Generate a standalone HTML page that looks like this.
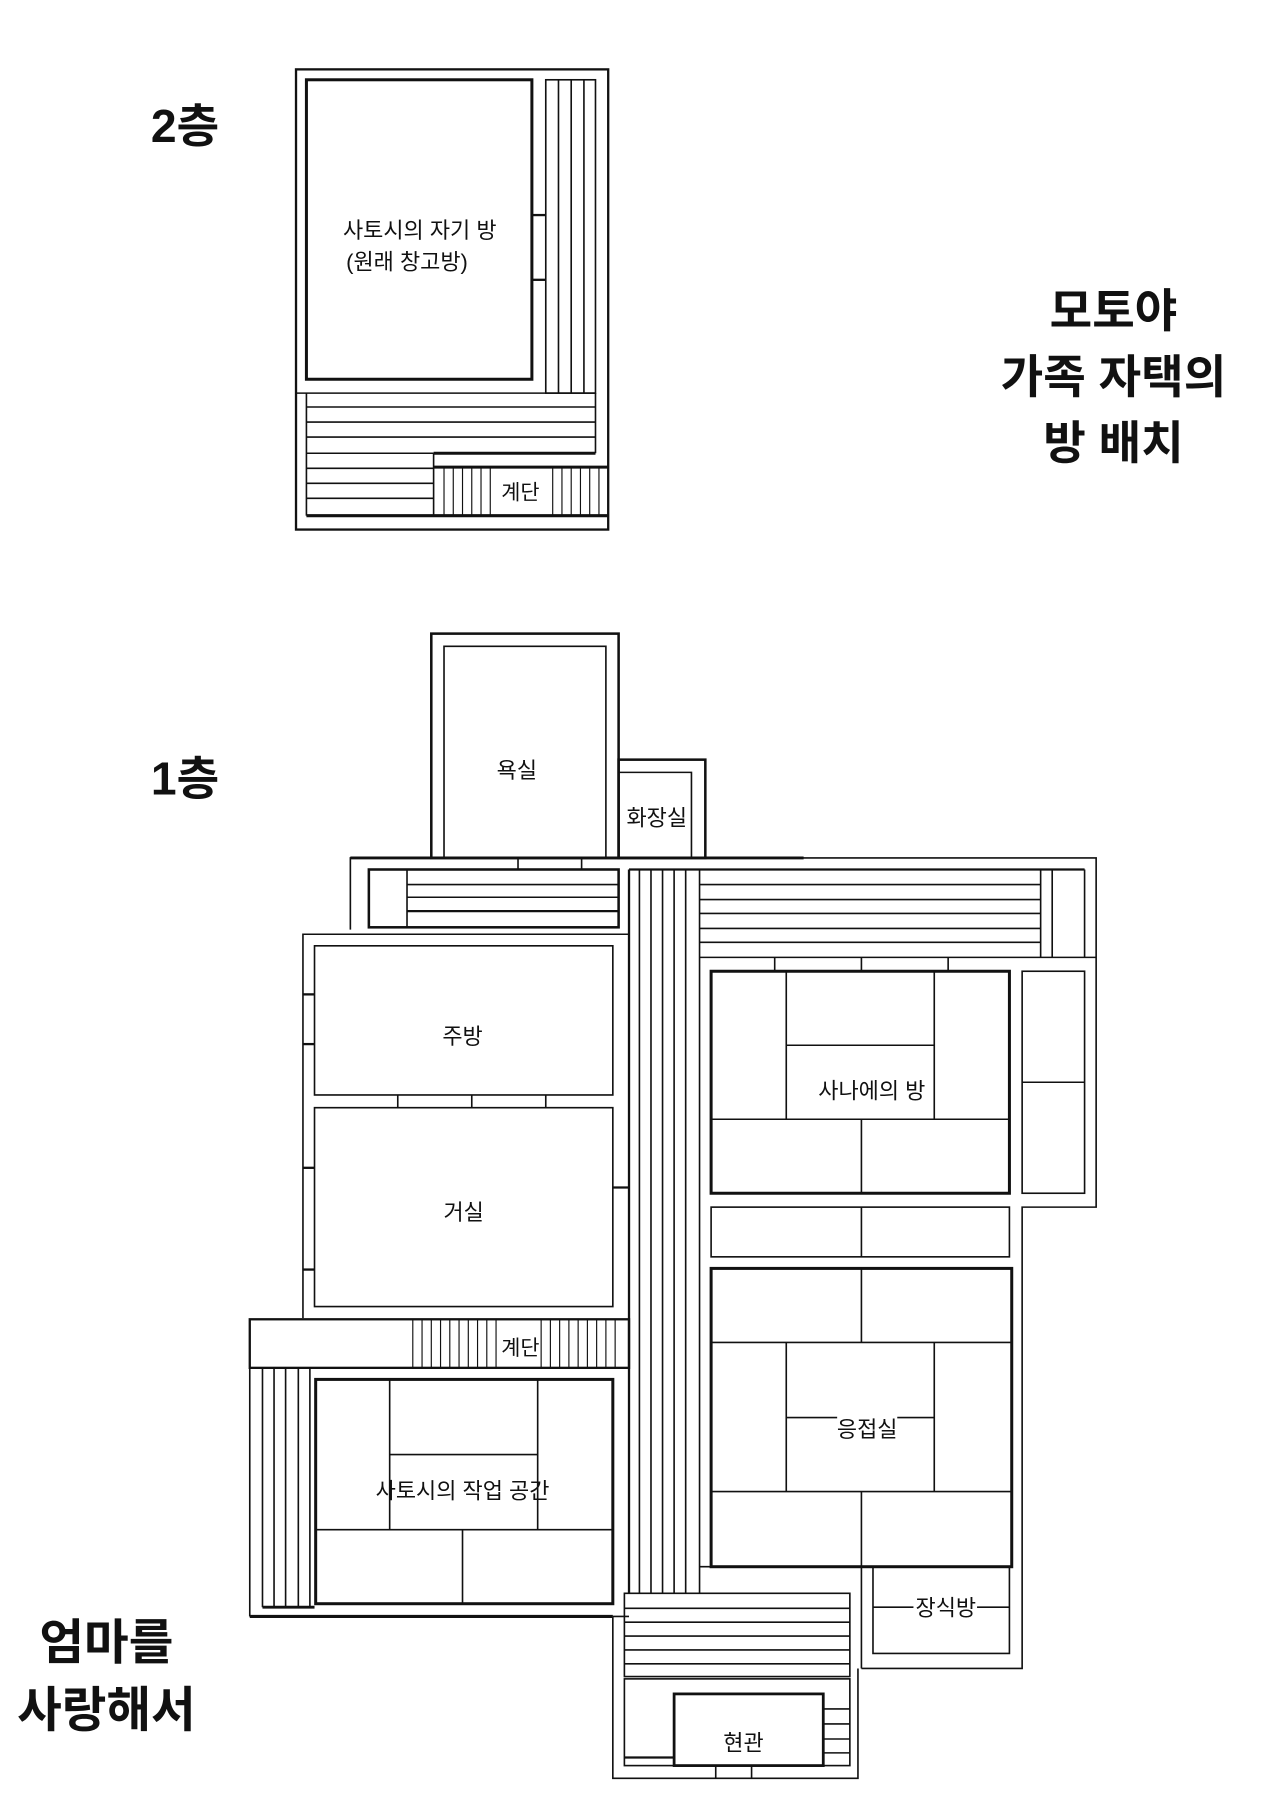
<!DOCTYPE html>
<html><head><meta charset="utf-8"><style>
html,body{margin:0;padding:0;background:#fff}
svg{display:block}
text{font-family:"Liberation Sans","Noto Sans CJK KR",sans-serif;fill:#111}
</style></head><body>
<svg width="1280" height="1813" viewBox="0 0 1107 1568" xmlns="http://www.w3.org/2000/svg">
<g fill="none" stroke="#111" stroke-width="1.4">
<!-- 2F -->
<rect x="256" y="60" width="270" height="398" stroke-width="2"/>
<rect x="265" y="69" width="195" height="259" stroke-width="2.6"/>
<rect x="472" y="69" width="43" height="271"/>
<line x1="483" y1="69" x2="483" y2="340"/><line x1="494" y1="69" x2="494" y2="340"/><line x1="505" y1="69" x2="505" y2="340"/>
<line x1="460" y1="186" x2="472" y2="186" stroke-width="2"/><line x1="460" y1="242" x2="472" y2="242" stroke-width="2"/>
<line x1="256" y1="340" x2="515" y2="340"/>
<line x1="265" y1="340" x2="265" y2="446"/>
<line x1="265" y1="352" x2="515" y2="352"/><line x1="265" y1="365" x2="515" y2="365"/><line x1="265" y1="378" x2="515" y2="378"/>
<line x1="515" y1="340" x2="515" y2="392"/>
<line x1="265" y1="392" x2="375" y2="392"/><line x1="265" y1="405" x2="375" y2="405"/><line x1="265" y1="418" x2="375" y2="418"/><line x1="265" y1="431" x2="375" y2="431"/>
<line x1="375" y1="392" x2="515" y2="392" stroke-width="2.6"/>
<line x1="375" y1="392" x2="375" y2="446"/>
<line x1="375" y1="404" x2="526" y2="404" stroke-width="2.6"/>
<g stroke-width="1">
<line x1="384" y1="404" x2="384" y2="446"/><line x1="392" y1="404" x2="392" y2="446"/><line x1="400" y1="404" x2="400" y2="446"/><line x1="408" y1="404" x2="408" y2="446"/><line x1="416" y1="404" x2="416" y2="446"/><line x1="424" y1="404" x2="424" y2="446"/><line x1="478" y1="404" x2="478" y2="446"/><line x1="486" y1="404" x2="486" y2="446"/><line x1="494" y1="404" x2="494" y2="446"/><line x1="502" y1="404" x2="502" y2="446"/><line x1="510" y1="404" x2="510" y2="446"/><line x1="518" y1="404" x2="518" y2="446"/>
</g>
<line x1="265" y1="446" x2="526" y2="446" stroke-width="2.6"/>

<!-- 1F bath/toilet -->
<rect x="373" y="548" width="162" height="194" stroke-width="2.2"/>
<polyline points="384,742 384,559 524,559 524,742"/>
<rect x="535" y="657" width="75" height="85" stroke-width="2.2"/>
<polyline points="535,668 598,668 598,742"/>
<polyline points="303,804 303,742 535,742"/>
<line x1="303" y1="742" x2="695" y2="742" stroke-width="2.4"/>
<rect x="319" y="752" width="216" height="50" stroke-width="2.2"/>
<line x1="352" y1="752" x2="352" y2="802"/>
<line x1="352" y1="765" x2="535" y2="765"/><line x1="352" y1="776" x2="535" y2="776"/><line x1="352" y1="788" x2="535" y2="788" stroke-width="2"/>
<line x1="448" y1="742" x2="448" y2="752"/><line x1="503" y1="742" x2="503" y2="752"/>
<polyline points="536,742 948,742 948,1044 884,1044 884,1443 745,1443"/>
<line x1="544" y1="752" x2="938" y2="752" stroke-width="2"/>
<line x1="938" y1="752" x2="938" y2="828"/>
<line x1="605" y1="765" x2="900" y2="765"/><line x1="605" y1="778" x2="900" y2="778"/><line x1="605" y1="790" x2="900" y2="790"/><line x1="605" y1="803" x2="900" y2="803"/><line x1="605" y1="815" x2="900" y2="815"/>
<line x1="900" y1="752" x2="900" y2="828"/><line x1="910" y1="752" x2="910" y2="828"/>
<line x1="605" y1="828" x2="948" y2="828"/>
<line x1="544" y1="752" x2="544" y2="1378" stroke-width="2"/>
<line x1="553" y1="752" x2="553" y2="1378"/><line x1="563" y1="752" x2="563" y2="1378"/><line x1="573" y1="752" x2="573" y2="1378"/><line x1="583" y1="752" x2="583" y2="1378"/><line x1="593" y1="752" x2="593" y2="1378"/>
<line x1="605" y1="752" x2="605" y2="1378"/>
<line x1="605" y1="1355" x2="745" y2="1355"/><line x1="745" y1="1355" x2="745" y2="1443"/>
<line x1="670" y1="828" x2="670" y2="840"/><line x1="745" y1="828" x2="745" y2="840"/><line x1="820" y1="828" x2="820" y2="840"/>
<rect x="615" y="840" width="258" height="192" stroke-width="2.6"/>
<line x1="680" y1="840" x2="680" y2="968"/><line x1="808" y1="840" x2="808" y2="968"/>
<line x1="680" y1="904" x2="808" y2="904"/><line x1="615" y1="968" x2="873" y2="968"/>
<line x1="745" y1="968" x2="745" y2="1032"/>
<rect x="884" y="840" width="54" height="192"/><line x1="884" y1="936" x2="938" y2="936"/>
<rect x="615" y="1044" width="258" height="43"/><line x1="745" y1="1044" x2="745" y2="1087"/>
<rect x="615" y="1097" width="260" height="258" stroke-width="2.6"/>
<line x1="615" y1="1161" x2="875" y2="1161"/><line x1="615" y1="1290" x2="875" y2="1290"/>
<line x1="745" y1="1097" x2="745" y2="1161"/><line x1="745" y1="1290" x2="745" y2="1355"/>
<line x1="680" y1="1161" x2="680" y2="1290"/><line x1="808" y1="1161" x2="808" y2="1290"/>
<line x1="680" y1="1226" x2="724" y2="1226"/><line x1="776" y1="1226" x2="808" y2="1226"/>
<rect x="755" y="1355" width="118" height="75"/>
<line x1="755" y1="1390" x2="790" y2="1390"/><line x1="845" y1="1390" x2="873" y2="1390"/>
<rect x="540" y="1378" width="195" height="72"/>
<line x1="540" y1="1391" x2="735" y2="1391"/><line x1="540" y1="1403" x2="735" y2="1403"/><line x1="540" y1="1415" x2="735" y2="1415"/><line x1="540" y1="1427" x2="735" y2="1427"/><line x1="540" y1="1439" x2="735" y2="1439"/>
<polyline points="530,1398 530,1538 742,1538 742,1443"/>
<rect x="540" y="1452" width="195" height="75"/>
<rect x="583" y="1465" width="129" height="62" stroke-width="2.4"/>
<line x1="712" y1="1478" x2="735" y2="1478"/><line x1="712" y1="1491" x2="735" y2="1491"/><line x1="712" y1="1504" x2="735" y2="1504"/><line x1="712" y1="1516" x2="735" y2="1516"/>
<line x1="540" y1="1520" x2="583" y2="1520" stroke-width="2"/>
<line x1="619" y1="1527" x2="619" y2="1538"/><line x1="650" y1="1527" x2="650" y2="1538"/>
<polyline points="262,1140 262,808 544,808"/>
<rect x="272" y="818" width="258" height="129"/>
<rect x="272" y="958" width="258" height="172"/>
<line x1="344" y1="947" x2="344" y2="958"/><line x1="408" y1="947" x2="408" y2="958"/><line x1="472" y1="947" x2="472" y2="958"/>
<line x1="262" y1="860" x2="272" y2="860" stroke-width="2"/><line x1="262" y1="903" x2="272" y2="903" stroke-width="2"/><line x1="262" y1="1010" x2="272" y2="1010" stroke-width="2"/><line x1="262" y1="1098" x2="272" y2="1098" stroke-width="2"/>
<line x1="530" y1="1027" x2="544" y2="1027" stroke-width="2"/>
<rect x="216" y="1141" width="328" height="42" stroke-width="2"/>
<g stroke-width="1">
<line x1="357" y1="1141" x2="357" y2="1183"/><line x1="365" y1="1141" x2="365" y2="1183"/><line x1="373" y1="1141" x2="373" y2="1183"/><line x1="381" y1="1141" x2="381" y2="1183"/><line x1="389" y1="1141" x2="389" y2="1183"/><line x1="397" y1="1141" x2="397" y2="1183"/><line x1="405" y1="1141" x2="405" y2="1183"/><line x1="413" y1="1141" x2="413" y2="1183"/><line x1="421" y1="1141" x2="421" y2="1183"/><line x1="429" y1="1141" x2="429" y2="1183"/><line x1="468" y1="1141" x2="468" y2="1183"/><line x1="476" y1="1141" x2="476" y2="1183"/><line x1="484" y1="1141" x2="484" y2="1183"/><line x1="492" y1="1141" x2="492" y2="1183"/><line x1="500" y1="1141" x2="500" y2="1183"/><line x1="508" y1="1141" x2="508" y2="1183"/><line x1="516" y1="1141" x2="516" y2="1183"/><line x1="524" y1="1141" x2="524" y2="1183"/><line x1="532" y1="1141" x2="532" y2="1183"/>
</g>
<line x1="216" y1="1183" x2="216" y2="1398"/>
<line x1="227" y1="1183" x2="227" y2="1390"/><line x1="237" y1="1183" x2="237" y2="1390"/><line x1="247" y1="1183" x2="247" y2="1390"/><line x1="258" y1="1183" x2="258" y2="1390"/><line x1="268" y1="1183" x2="268" y2="1390"/>
<line x1="227" y1="1390" x2="272" y2="1390" stroke-width="2.4"/>
<rect x="273" y="1193" width="257" height="194" stroke-width="2.6"/>
<line x1="337" y1="1193" x2="337" y2="1323"/><line x1="465" y1="1193" x2="465" y2="1323"/>
<line x1="337" y1="1258" x2="465" y2="1258"/><line x1="273" y1="1323" x2="530" y2="1323"/>
<line x1="400" y1="1323" x2="400" y2="1387"/>
<line x1="216" y1="1398" x2="530" y2="1398" stroke-width="2.6"/>
<line x1="530" y1="1398" x2="544" y2="1398"/>
</g>
<g font-size="19" text-anchor="middle">
<text x="363" y="206">사토시의 자기 방</text>
<text x="352" y="233">(원래 창고방)</text>
<text x="450" y="432" font-size="18">계단</text>
<text x="447" y="673">욕실</text>
<text x="568" y="714">화장실</text>
<text x="400" y="903">주방</text>
<text x="401" y="1055">거실</text>
<text x="754" y="950">사나에의 방</text>
<text x="750" y="1243">응접실</text>
<text x="818" y="1397">장식방</text>
<text x="643" y="1514">현관</text>
<text x="450" y="1172" font-size="18">계단</text>
<text x="400" y="1296">사토시의 작업 공간</text>
</g>
<g font-size="40" text-anchor="middle" font-weight="bold">
<text x="160" y="123">2층</text>
<text x="160" y="687">1층</text>
<text x="963" y="283">모토야</text>
<text x="963" y="340">가족 자택의</text>
<text x="963" y="397">방 배치</text>
<text x="92" y="1435" font-size="42">엄마를</text>
<text x="92" y="1493" font-size="42">사랑해서</text>
</g>
</svg>
</body></html>
